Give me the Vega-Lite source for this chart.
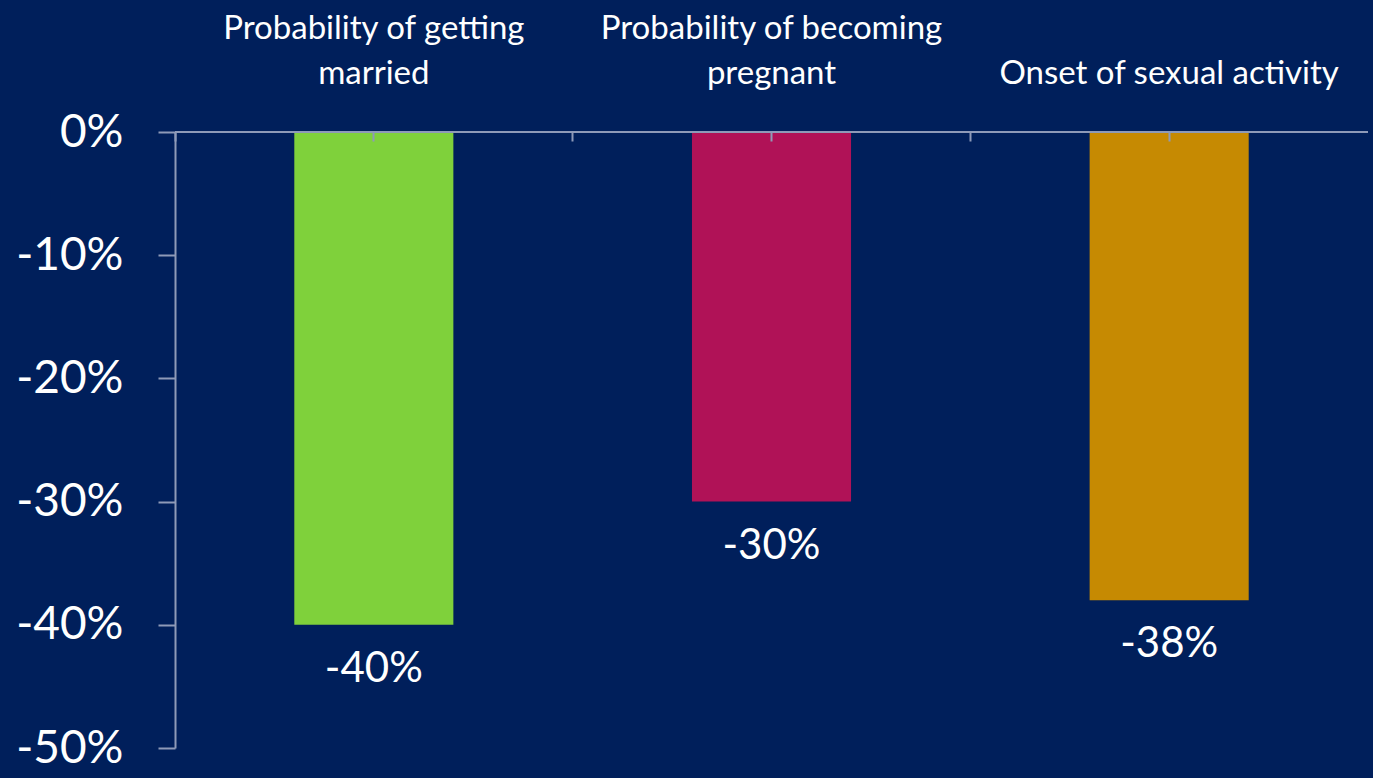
{
  "$schema": "https://vega.github.io/schema/vega-lite/v6.json",
  "width": 1193,
  "height": 616,
  "autosize": {"type": "none"},
  "padding": {"left": 175, "top": 132, "right": 5, "bottom": 30},
  "background": "#001f5b",
  "config": {"view": {"stroke": null}, "font": "Lato"},
  "data": {
    "values": [
      {"category": "Probability of getting|married", "value": -40, "label": "-40%"},
      {"category": "Probability of becoming|pregnant", "value": -30, "label": "-30%"},
      {"category": "|Onset of sexual activity", "value": -38, "label": "-38%"}
    ]
  },
  "encoding": {
    "y": {
      "field": "value",
      "type": "quantitative",
      "scale": {"domain": [-50, 0], "nice": false},
      "axis": {
        "values": [-50, -40, -30, -20, -10, 0],
        "labelExpr": "datum.value + '%'",
        "title": null,
        "grid": false,
        "domainColor": "#8e9ab8",
        "domainWidth": 2,
        "tickColor": "#8e9ab8",
        "tickWidth": 2,
        "tickSize": 17,
        "labelPadding": 35,
        "labelColor": "white",
        "labelFontSize": 46,
        "labelFont": "Lato"
      }
    }
  },
  "layer": [
    {
      "mark": {"type": "bar"},
      "encoding": {
        "x": {
          "field": "category",
          "type": "nominal",
          "sort": null,
          "scale": {"paddingInner": 0.6, "paddingOuter": 0.3},
          "axis": {
            "orient": "top",
            "offset": -9,
            "zindex": 1,
            "title": null,
            "labelAngle": 0,
            "labelLimit": 0,
            "labelExpr": "split(datum.label, '|')",
            "labelColor": "white",
            "labelFontSize": 33,
            "labelLineHeight": 45,
            "labelBaseline": "alphabetic",
            "labelPadding": 94,
            "labelFont": "Lato",
            "domain": false,
            "tickColor": "#8e9ab8",
            "tickWidth": 2,
            "tickSize": 9
          }
        },
        "color": {
          "field": "category",
          "type": "nominal",
          "sort": null,
          "scale": {"range": ["#7fd13b", "#b01257", "#c68a02"]},
          "legend": null
        }
      }
    },
    {
      "mark": {"type": "text", "dy": 44, "baseline": "middle", "fontSize": 42, "color": "white", "font": "Lato"},
      "encoding": {
        "x": {
          "field": "category",
          "type": "nominal",
          "sort": null,
          "axis": {
            "orient": "top",
            "offset": -9,
            "zindex": 1,
            "title": null,
            "labels": false,
            "domain": false,
            "bandPosition": -0.75,
            "tickColor": "#8e9ab8",
            "tickWidth": 2,
            "tickSize": 9
          }
        },
        "text": {"field": "label"}
      }
    },
    {
      "mark": {"type": "rule", "color": "#8e9ab8", "strokeWidth": 2},
      "encoding": {"y": {"datum": 0}}
    }
  ],
  "resolve": {"axis": {"x": "independent"}}
}
